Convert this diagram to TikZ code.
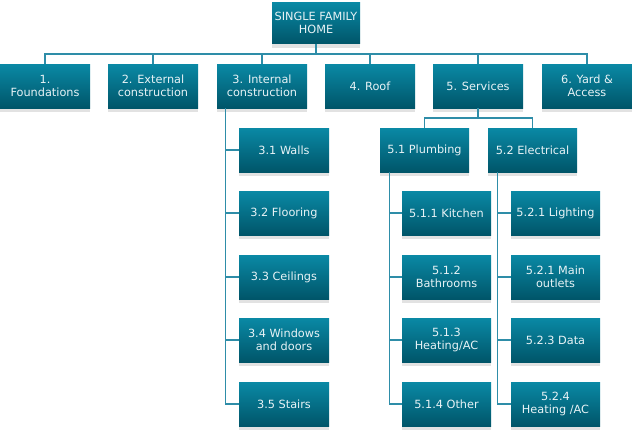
\documentclass[tikz,border=0pt]{standalone}
\usepackage{fontspec}
\setmainfont{DejaVu Sans}
\usetikzlibrary{shadows}
\definecolor{boxtop}{HTML}{0A89A5}
\definecolor{boxbot}{HTML}{005569}
\definecolor{linec}{HTML}{2E8DA8}
\definecolor{shad}{HTML}{E2E2E2}
\definecolor{txt}{HTML}{E8F3F6}
\begin{document}
\begin{tikzpicture}[x=1pt,y=-1pt,
 box/.style={rectangle, minimum width=90pt, minimum height=44pt, inner sep=0pt,
   top color=boxtop, bottom color=boxbot, text=txt, align=center,
   font=\fontsize{11.3}{13.5}\selectfont,
   drop shadow={shadow xshift=0pt, shadow yshift=-4pt, fill=shad, opacity=1}},
 conn/.style={draw=linec, line width=1.1pt}]
\useasboundingbox (0,0) rectangle (632,431);
% top
\node[box, minimum width=88pt, minimum height=41pt] (top) at (316,23) {SINGLE FAMILY\\HOME};
% row 1
\node[box] (n1) at (45,86) {1.\\Foundations};
\node[box] (n2) at (153,86) {2. External\\construction};
\node[box] (n3) at (262,86) {3. Internal\\construction};
\node[box] (n4) at (370,86) {4. Roof};
\node[box] (n5) at (478,86) {5. Services};
\node[box] (n6) at (587,86) {6. Yard \&\\Access};
% 3.x
\node[box] (c31) at (284,150) {3.1 Walls};
\node[box] (c32) at (284,213) {3.2 Flooring};
\node[box] (c33) at (284,277) {3.3 Ceilings};
\node[box] (c34) at (284,340) {3.4 Windows\\and doors};
\node[box] (c35) at (284,404) {3.5 Stairs};
% 5.x
\node[box, minimum width=89pt] (p51) at (424.5,150) {5.1 Plumbing};
\node[box, minimum width=89pt] (p52) at (532.5,150) {5.2 Electrical};
\node[box, minimum width=89pt] (q11) at (446.5,213) {5.1.1 Kitchen};
\node[box, minimum width=89pt] (q12) at (446.5,277) {5.1.2\\Bathrooms};
\node[box, minimum width=89pt] (q13) at (446.5,340) {5.1.3\\Heating/AC};
\node[box, minimum width=89pt] (q14) at (446.5,404) {5.1.4 Other};
\node[box, minimum width=89pt] (q21) at (555.5,213) {5.2.1 Lighting};
\node[box, minimum width=89pt] (q22) at (555.5,277) {5.2.1 Main\\outlets};
\node[box, minimum width=89pt] (q23) at (555.5,340) {5.2.3 Data};
\node[box, minimum width=89pt] (q24) at (555.5,404) {5.2.4\\Heating /AC};
% connectors
\coordinate (bus) at (316,54);
\draw[conn] (top.south) -- (bus);
\foreach \n in {n1,n2,n3,n4,n5,n6} \draw[conn] (\n.north) |- (bus);
\foreach \c in {c31,c32,c33,c34,c35} \draw[conn] ([xshift=9pt]n3.south west) |- (\c.west);
\coordinate (b5) at (478,118);
\draw[conn] (n5.south) -- (b5);
\draw[conn] (p51.north) |- (b5);
\draw[conn] (p52.north) |- (b5);
\foreach \c in {q11,q12,q13,q14} \draw[conn] ([xshift=10pt]p51.south west) |- (\c.west);
\foreach \c in {q21,q22,q23,q24} \draw[conn] ([xshift=10pt]p52.south west) |- (\c.west);
\end{tikzpicture}
\end{document}
